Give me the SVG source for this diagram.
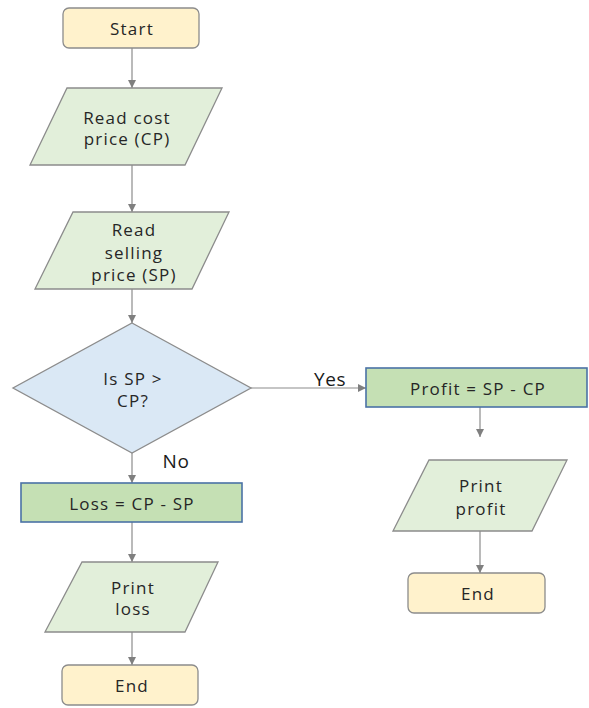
<svg xmlns="http://www.w3.org/2000/svg" width="589" height="708" viewBox="0 0 589 708">
<style>
text{font-family:"Open Sans","Noto Sans","Liberation Sans",sans-serif;font-size:17px;letter-spacing:1.2px;fill:#262626;text-anchor:middle;dominant-baseline:central}
.term{fill:#fff2cc;stroke:#8c8c8c;stroke-width:1.3}
.io{fill:#e2efda;stroke:#8c8c8c;stroke-width:1.3}
.dec{fill:#dae8f5;stroke:#8c8c8c;stroke-width:1.3}
.proc{fill:#c5e0b4;stroke:#4a72a6;stroke-width:1.6}
.lbl{font-size:19px;letter-spacing:0.6px;fill:#1a1a1a}
.conn line{stroke:#8c8c8c;stroke-width:1.2;marker-end:url(#ah)}
</style>
<defs>
<marker id="ah" viewBox="0 0 10 10" refX="10" refY="5" markerWidth="8" markerHeight="8" markerUnits="userSpaceOnUse" orient="auto">
<path d="M0,0 L10,5 L0,10 z" fill="#7f7f7f"/>
</marker>
</defs>
<rect width="589" height="708" fill="#ffffff"/>
<g id="connectors" class="conn">
<line x1="132" y1="48" x2="132" y2="88"/>
<line x1="132" y1="165" x2="132" y2="212"/>
<line x1="132" y1="289" x2="132" y2="323"/>
<line x1="251" y1="388" x2="366" y2="388"/>
<line x1="132" y1="453" x2="132" y2="483"/>
<line x1="480" y1="407" x2="480" y2="437"/>
<line x1="480" y1="531" x2="480" y2="573"/>
<line x1="132" y1="522" x2="132" y2="562"/>
<line x1="132" y1="632" x2="132" y2="665"/>
<text class="lbl" x="330" y="379">Yes</text>
<text class="lbl" x="176" y="461">No</text>
</g>
<g id="start">
<rect class="term" x="63" y="8" width="136" height="40" rx="6"/>
<text x="132" y="28">Start</text>
</g>
<g id="readCP">
<polygon class="io" points="67,88 222,88 185,165 30,165"/>
<text x="127" y="117">Read cost</text>
<text x="127" y="138">price (CP)</text>
</g>
<g id="readSP">
<polygon class="io" points="73,212 229,212 192,289 35,289"/>
<text x="134" y="229">Read</text>
<text x="134" y="252">selling</text>
<text x="134" y="274">price (SP)</text>
</g>
<g id="decision">
<polygon class="dec" points="132,323 251,388 132,453 13,388"/>
<text x="133" y="378">Is SP &gt;</text>
<text x="133" y="400">CP?</text>
</g>
<g id="profit">
<rect class="proc" x="366" y="368" width="221" height="39"/>
<text x="478" y="388">Profit = SP - CP</text>
</g>
<g id="printProfit">
<polygon class="io" points="429,460 567,460 532,531 393,531"/>
<text x="481" y="485">Print</text>
<text x="481" y="508">profit</text>
</g>
<g id="end1">
<rect class="term" x="408" y="573" width="137" height="40" rx="6"/>
<text x="478" y="593">End</text>
</g>
<g id="loss">
<rect class="proc" x="21" y="483" width="221" height="39"/>
<text x="132" y="503">Loss = CP - SP</text>
</g>
<g id="printLoss">
<polygon class="io" points="82,562 218,562 185,632 45,632"/>
<text x="133" y="587">Print</text>
<text x="133" y="608">loss</text>
</g>
<g id="end2">
<rect class="term" x="62" y="665" width="136" height="40" rx="6"/>
<text x="132" y="685">End</text>
</g>
</svg>
